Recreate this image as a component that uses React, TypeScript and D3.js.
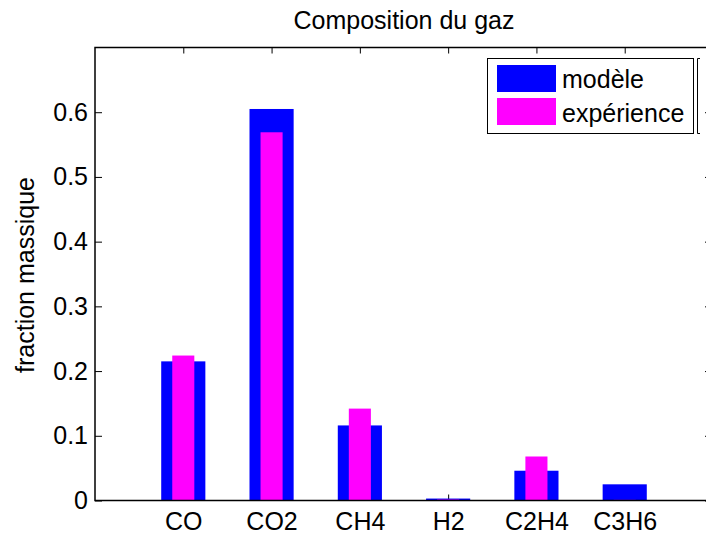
import React, { useEffect, useRef } from 'react';
import * as d3 from 'd3';

// gas composition, mass fraction
const categories = ['CO', 'CO2', 'CH4', 'H2', 'C2H4', 'C3H6'];
const modele = [0.215, 0.605, 0.116, 0.003, 0.046, 0.025];
const experience = [0.224, 0.569, 0.142, 0.0015, 0.068, 0.001];
const yTicks = [0, 0.1, 0.2, 0.3, 0.4, 0.5, 0.6];
const seriesNames = ['modèle', 'expérience'];

const W = 706;
const H = 540;
const FONT = '"Liberation Sans", Arial, Helvetica, sans-serif';

export default function App() {
  const ref = useRef<SVGSVGElement>(null);

  useEffect(() => {
    const svg = d3.select(ref.current);
    svg.selectAll('*').remove();

    const left = 95, right = 713, top = 47.5, bottom = 500.5;

    const x = d3.scaleLinear().domain([0, categories.length + 1]).range([left, right]);
    const y = d3.scaleLinear().domain([0, 0.7]).range([bottom, top]);
    const step = x(1) - x(0);

    svg.append('rect').attr('width', W).attr('height', H).attr('fill', 'white');

    const idx = categories.map((_, i) => i + 1);

    // ticks first, bars hide them (like matlab layer bottom)
    const style = (g) => {
      g.select('.domain').remove();
      g.selectAll('line').attr('stroke', '#000').attr('stroke-width', 1);
      g.attr('font-family', FONT).attr('font-size', 25);
      g.selectAll('text').attr('fill', '#000');
    };

    svg.append('g')
      .attr('transform', `translate(${left},0)`)
      .call(d3.axisLeft(y).tickValues(yTicks).tickFormat((d) => String(d)).tickSize(-7).tickSizeOuter(0).tickPadding(7))
      .call(style);

    svg.append('g')
      .attr('transform', `translate(${right},0)`)
      .call(d3.axisRight(y).tickValues(yTicks).tickFormat(() => '').tickSize(-8).tickSizeOuter(0))
      .call(style);

    svg.append('g')
      .attr('transform', `translate(0,${bottom})`)
      .call(d3.axisBottom(x).tickValues(idx).tickFormat((d) => categories[+d - 1]).tickSize(-6).tickSizeOuter(0).tickPadding(12))
      .call(style);

    svg.append('g')
      .attr('transform', `translate(0,${top})`)
      .call(d3.axisTop(x).tickValues(idx).tickFormat(() => '').tickSize(-6).tickSizeOuter(0))
      .call(style);

    // bars
    svg.append('g').selectAll('rect')
      .data(modele)
      .enter().append('rect')
      .attr('x', (d, i) => x(i + 1) - step * 0.25)
      .attr('width', step * 0.5)
      .attr('y', (d) => y(d))
      .attr('height', (d) => y(0) - y(d))
      .attr('fill', '#0000ff');

    svg.append('g').selectAll('rect')
      .data(experience)
      .enter().append('rect')
      .attr('x', (d, i) => x(i + 1) - step * 0.125)
      .attr('width', step * 0.25)
      .attr('y', (d) => y(d))
      .attr('height', (d) => y(0) - y(d))
      .attr('fill', '#ff00ff');

    // box
    svg.append('path')
      .attr('d', `M${left},${bottom}V${top}H${right}V${bottom}Z`)
      .attr('fill', 'none')
      .attr('stroke', '#000')
      .attr('stroke-width', 1.5);

    svg.append('text')
      .attr('x', (left + right) / 2)
      .attr('y', 29)
      .attr('text-anchor', 'middle')
      .attr('font-family', FONT)
      .attr('font-size', 25)
      .text('Composition du gaz');

    svg.append('text')
      .attr('transform', 'translate(34,275) rotate(-90)')
      .attr('text-anchor', 'middle')
      .attr('font-family', FONT)
      .attr('font-size', 25)
      .text('fraction massique');

    // legend
    const lg = svg.append('g');
    lg.append('rect')
      .attr('x', 487.5).attr('y', 58.5).attr('width', 206).attr('height', 75)
      .attr('fill', 'white').attr('stroke', '#000').attr('stroke-width', 1);
    lg.append('path')
      .attr('d', 'M700,58.5H697.5V133.5H700')
      .attr('fill', 'none').attr('stroke', '#000').attr('stroke-width', 1);
    const colors = ['#0000ff', '#ff00ff'];
    seriesNames.forEach((name, i) => {
      lg.append('rect')
        .attr('x', 497).attr('y', 65 + i * 33).attr('width', 59).attr('height', 27)
        .attr('fill', colors[i]);
      lg.append('text')
        .attr('x', 562).attr('y', 88 + i * 34)
        .attr('font-family', FONT).attr('font-size', 25)
        .text(name);
    });
  }, []);

  return (
    <svg
      ref={ref}
      width={W}
      height={H}
      style={{ position: 'absolute', left: 0, top: 0, display: 'block' }}
    />
  );
}
